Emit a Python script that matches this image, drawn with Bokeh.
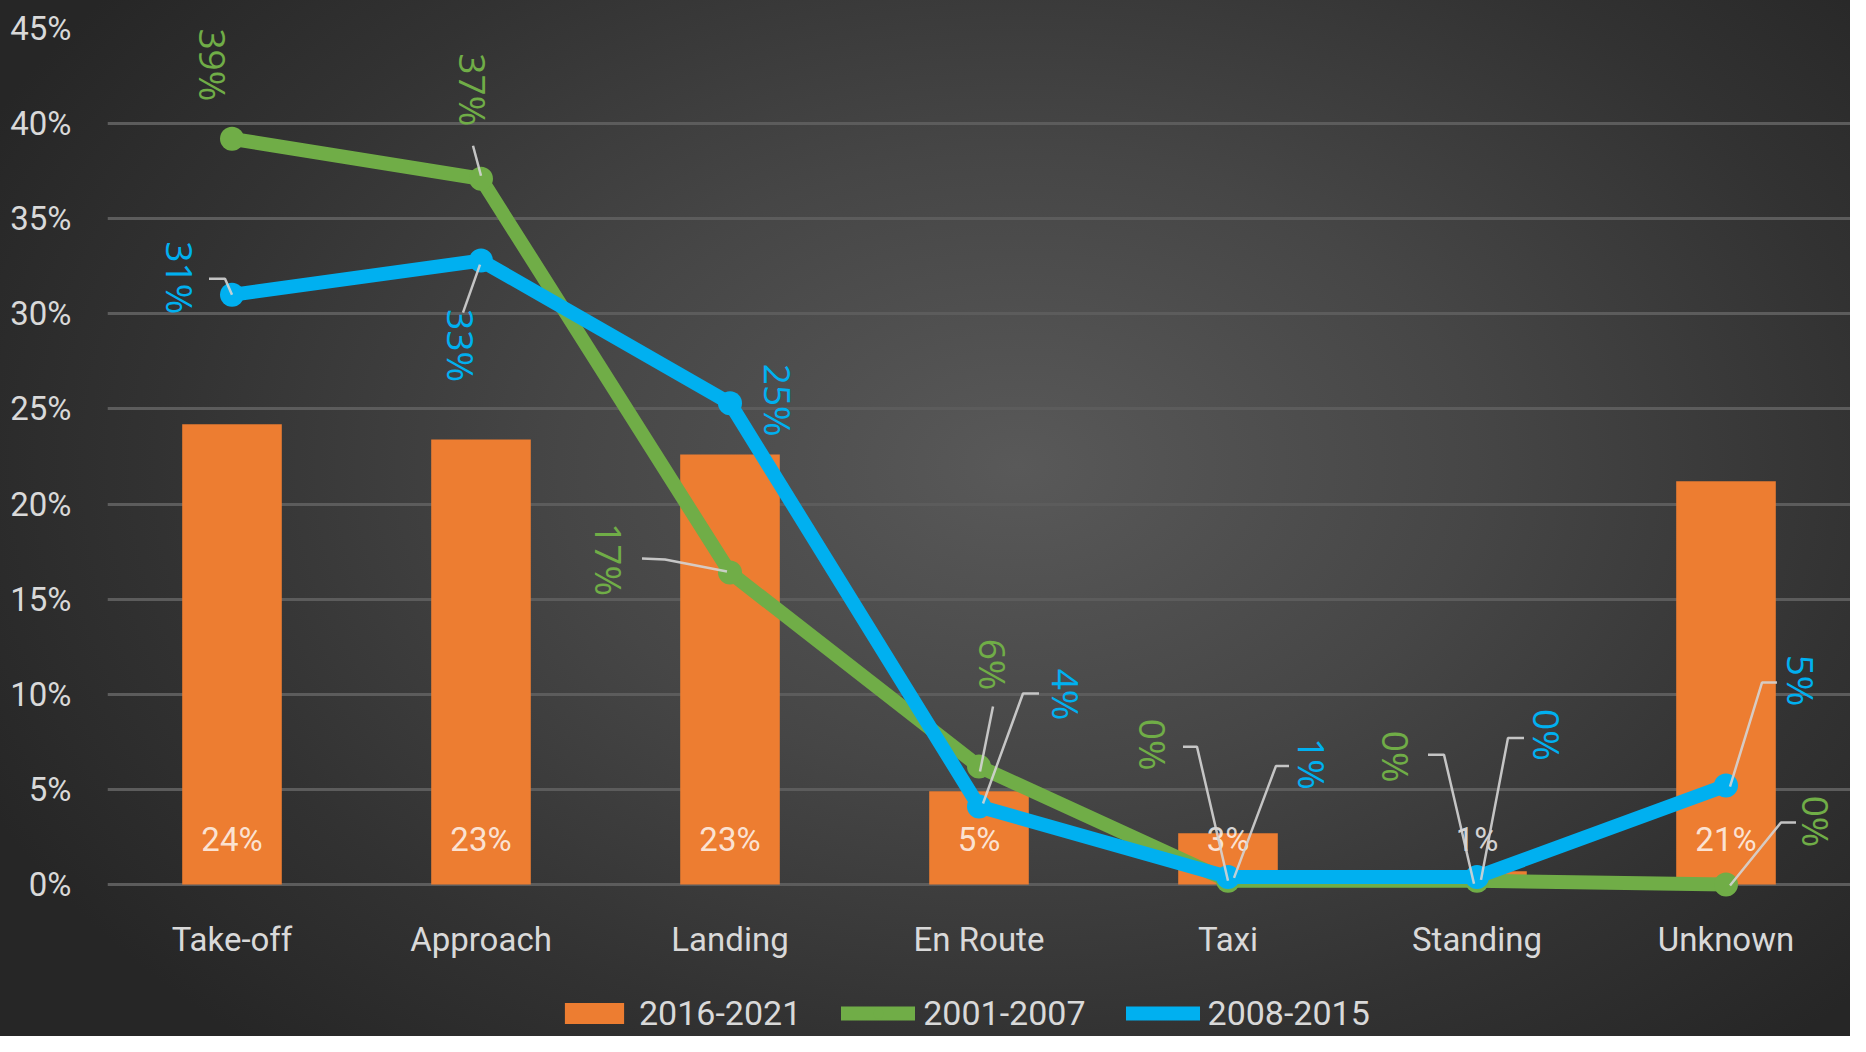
import math
from bokeh.plotting import figure
from bokeh.models import (FactorRange, Range1d, NumeralTickFormatter, Legend,
                          LegendItem, FixedTicker)
from bokeh.core.properties import value
from bokeh.embed import file_html
from bokeh.resources import INLINE

# ---------------- data ----------------
phases = ["Take-off", "Approach", "Landing", "En Route", "Taxi", "Standing", "Unknown"]
share_2016_2021 = [0.242, 0.234, 0.226, 0.049, 0.027, 0.007, 0.212]
share_2001_2007 = [0.392, 0.371, 0.164, 0.062, 0.002, 0.002, 0.000]
share_2008_2015 = [0.310, 0.328, 0.253, 0.041, 0.004, 0.004, 0.052]
labels_2016_2021 = ["24%", "23%", "23%", "5%", "3%", "1%", "21%"]
labels_2001_2007 = ["39%", "37%", "17%", "6%", "0%", "0%", "0%"]
labels_2008_2015 = ["31%", "33%", "25%", "4%", "1%", "0%", "5%"]
y_ticks = [0.0, 0.05, 0.10, 0.15, 0.20, 0.25, 0.30, 0.35, 0.40, 0.45]
series_names = ["2016-2021", "2001-2007", "2008-2015"]

# ---------------- styles / layout ----------------
ORANGE, GREEN, BLUE = "#ED7D31", "#70AD47", "#00B0F0"
W, H = 1850, 1036
B_LEFT, B_TOP = 107, 28
ZERO_Y = 884                      # screen row of the 0% line
Y_MAX = 0.45
frame_w = W - B_LEFT
px_per_band = frame_w / len(phases)
px_per_unit = (ZERO_Y - B_TOP) / Y_MAX
Y_MIN = -(H - ZERO_Y) / px_per_unit
SANS = "Roboto"
LABEL_FONT = "Open Sans"
TICK_COLOR = "#d9d9d9"

# label offsets (screen px from the data point: dx right, dy down)
green_label_off = [(-19, -74), (-8, -89), (-121, -13), (14, -102), (-75, -136), (-81, -124), (90, -63)]
blue_label_off = [(-52, -17), (-20, 85), (48, -3), (87, -112), (84, -113), (70, -142), (75, -105)]
# leader polylines (screen px from the data point)
green_leaders = [None, [(-8, -33), (0, -3)], [(-88, -14), (-65, -13), (-3, -1)], [(14, -60), (1, 5)],
                 [(-45, -134), (-31, -134), (0, 0)], [(-49, -126), (-33, -126), (-3, 3)],
                 [(70, -62), (55, -62), (4, 1)]]
blue_leaders = [[(-23, -16), (-7, -16), (0, 0)], [(-18, 52), (-1, 4)], None,
                [(60, -113), (44, -113), (4, -3)], [(61, -111), (48, -111), (6, 1)],
                [(47, -139), (31, -139), (4, 3)], [(51, -103), (36, -103), (4, 1)]]


def to_data(i, val, dx, dy):
    return i + 0.5 + dx / px_per_band, val - dy / px_per_unit


p = figure(width=W, height=H, x_range=FactorRange(*phases), y_range=Range1d(Y_MIN, Y_MAX),
           output_backend="svg", toolbar_location=None,
           min_border_left=B_LEFT, min_border_right=0,
           min_border_top=B_TOP, min_border_bottom=0)
p.background_fill_alpha = 0
p.border_fill_alpha = 0
p.outline_line_color = None
p.styles = {"background-image":
            "radial-gradient(ellipse 62% 75% at 55% 45%, #595959 0%, #464646 40%, #323232 75%, #262626 100%)"}

p.xgrid.grid_line_color = None
p.ygrid.grid_line_color = "#5c5c5c"
p.ygrid.grid_line_width = 3
p.ygrid.ticker = FixedTicker(ticks=y_ticks)

p.yaxis.ticker = FixedTicker(ticks=y_ticks)
p.yaxis.formatter = NumeralTickFormatter(format="0%")
for ax in (p.xaxis[0], p.yaxis[0]):
    ax.axis_line_color = None
    ax.major_tick_line_color = None
    ax.minor_tick_line_color = None
    ax.major_label_text_color = TICK_COLOR
    ax.major_label_text_font = SANS
p.yaxis.major_label_text_font_size = "33px"
p.yaxis.major_label_standoff = 30
p.xaxis.fixed_location = 0
p.xaxis.major_label_text_font_size = "33px"
p.xaxis.major_label_standoff = 29

bars = p.vbar(x=phases, top=share_2016_2021, width=0.4, fill_color=ORANGE, line_color=None)

bar_label_y = [45 / px_per_unit] * len(phases)
p.text(x=phases, y=bar_label_y, text=labels_2016_2021, text_align="center",
       text_baseline="middle", text_font=value(SANS), text_font_size="33px",
       text_color="white", text_alpha=0.8)

g_line = p.line(x=phases, y=share_2001_2007, line_color=GREEN, line_width=14,
                line_join="round", line_cap="round")
g_pts = p.scatter(x=phases, y=share_2001_2007, size=24, fill_color=GREEN, line_color=None)
b_line = p.line(x=phases, y=share_2008_2015, line_color=BLUE, line_width=14,
                line_join="round", line_cap="round")
b_pts = p.scatter(x=phases, y=share_2008_2015, size=24, fill_color=BLUE, line_color=None)

# leader lines
lx, ly = [], []
for vals, leaders in ((share_2001_2007, green_leaders), (share_2008_2015, blue_leaders)):
    for i, (v, ld) in enumerate(zip(vals, leaders)):
        if ld is None:
            continue
        pts = [to_data(i, v, dx, dy) for dx, dy in ld]
        lx.append([q[0] for q in pts])
        ly.append([q[1] for q in pts])
p.multi_line(xs=lx, ys=ly, line_color="#d4d4d4", line_width=2.5, line_alpha=0.9)

# rotated data labels
for vals, labs, offs, col in ((share_2001_2007, labels_2001_2007, green_label_off, GREEN),
                              (share_2008_2015, labels_2008_2015, blue_label_off, BLUE)):
    xs, ys = [], []
    for i, (v, (dx, dy)) in enumerate(zip(vals, offs)):
        x, y = to_data(i, v, dx, dy)
        xs.append(x)
        ys.append(y)
    p.text(x=xs, y=ys, text=labs, angle=-math.pi / 2, text_align="center",
           text_baseline="middle", text_font=value(LABEL_FONT), text_font_size="37px",
           text_color=col)

legend = Legend(items=[LegendItem(label=series_names[0], renderers=[bars]),
                       LegendItem(label=series_names[1], renderers=[g_line, g_pts]),
                       LegendItem(label=series_names[2], renderers=[b_line, b_pts])],
                orientation="horizontal", location=(450, 3),
                glyph_width=74, glyph_height=26, label_standoff=8, spacing=40,
                padding=0, margin=0, border_line_color=None, background_fill_alpha=0,
                label_text_font=SANS, label_text_font_size="34px",
                label_text_color=TICK_COLOR, label_height=40)
p.add_layout(legend, "center")

open("out.html", "w").write(file_html(p, INLINE))
